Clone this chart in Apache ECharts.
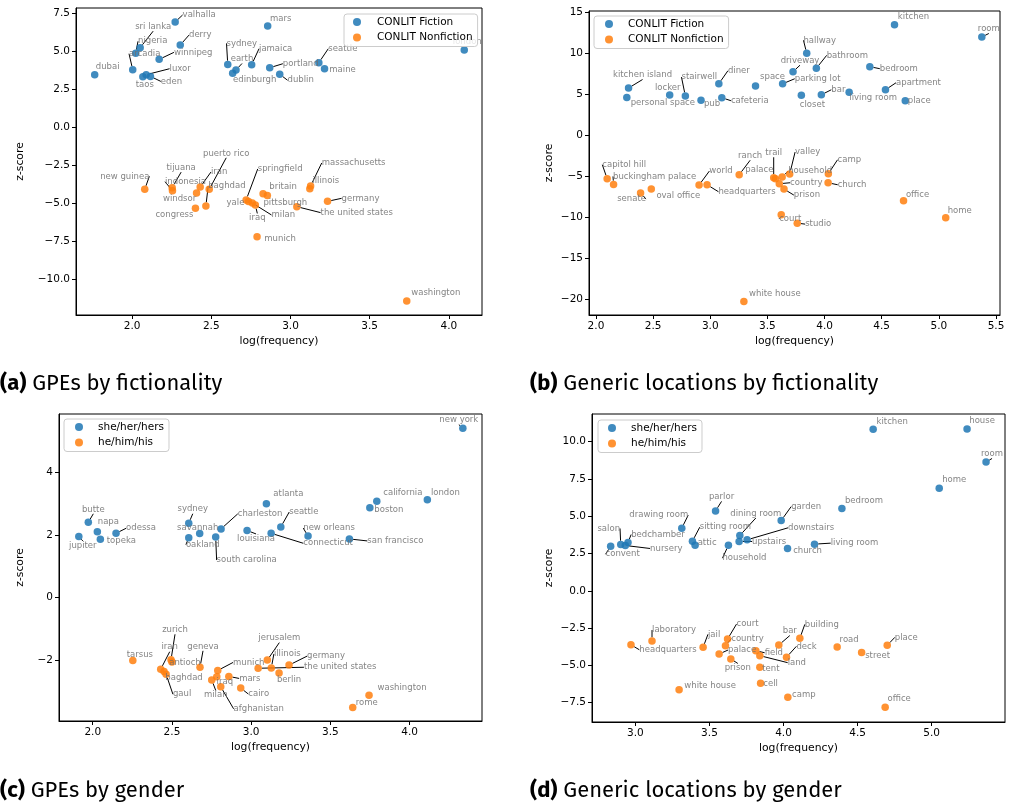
<!DOCTYPE html>
<html><head><meta charset="utf-8">
<script src="https://cdn.jsdelivr.net/npm/echarts@6/dist/echarts.min.js"></script>
<style>html,body{margin:0;padding:0;background:#fff}#c{width:1013px;height:807px}</style>
</head><body><div id="c"></div>
<script>
// ---------- DATA ----------
// (a) GPEs by fictionality
const aFicNames = ['dubai','valhalla','sri lanka','nigeria','arcadia','derry','winnipeg','taos','luxor','eden','sydney','earth','edinburgh','jamaica','mars','portland','dublin','seattle','maine','london'];
const aFicX = [1.764,2.272,2.051,2.023,2.004,2.304,2.171,2.068,2.089,2.116,2.604,2.656,2.635,2.755,2.856,2.869,2.932,3.179,3.215,4.097];
const aFicY = [3.44,6.91,5.22,4.85,3.77,5.39,4.45,3.31,3.44,3.33,4.12,3.75,3.53,4.10,6.64,3.90,3.47,4.23,3.84,5.07];
const aNonNames = ['new guinea','tijuana','indonesia','windsor','iran','puerto rico','baghdad','congress','springfield','yale','milan','iraq','britain','pittsburgh','munich','massachusetts','illinois','germany','the united states','washington'];
const aNonX = [2.080,2.253,2.255,2.407,2.430,2.487,2.466,2.400,2.720,2.735,2.759,2.778,2.827,2.854,2.789,3.127,3.122,3.234,3.040,3.734];
const aNonY = [-4.10,-3.99,-4.19,-4.34,-3.95,-4.10,-5.20,-5.35,-4.80,-4.91,-5.00,-5.13,-4.39,-4.50,-7.22,-3.88,-4.07,-4.89,-5.24,-11.45];

// (b) Generic locations by fictionality
const bFicNames = ['kitchen island','personal space','locker','stairwell','pub','diner','cafeteria','space','hallway','driveway','bathroom','parking lot','closet','bar','living room','bedroom','apartment','place','kitchen','room'];
const bFicX = [2.285,2.270,2.645,2.782,2.919,3.075,3.101,3.396,3.844,3.724,3.928,3.633,3.797,3.972,4.215,4.396,4.533,4.706,4.612,5.376];
const bFicY = [5.77,4.63,4.91,4.79,4.27,6.29,4.59,6.01,10.0,7.76,8.17,6.29,4.88,4.95,5.24,8.37,5.56,4.22,13.49,11.99];
const bNonNames = ['capitol hill','buckingham palace','senate','oval office','world','headquarters','ranch','trail','palace','valley','household','country','prison','camp','church','court','studio','office','home','white house'];
const bNonX = [2.098,2.154,2.390,2.484,2.902,2.972,3.253,3.555,3.570,3.695,3.629,3.604,3.645,4.033,4.031,3.621,3.761,4.691,5.060,3.294];
const bNonY = [-5.29,-5.98,-7.04,-6.55,-6.06,-6.02,-4.80,-5.17,-5.30,-4.72,-5.09,-5.90,-6.55,-4.68,-5.78,-9.68,-10.70,-7.97,-10.04,-20.24];

// (c) GPEs by gender
const cSheNames = ['jupiter','butte','napa','topeka','odessa','sydney','savannah','oakland','charleston','south carolina','louisiana','atlanta','seattle','connecticut','new orleans','san francisco','california','boston','london','new york'];
const cSheX = [1.912,1.972,2.029,2.048,2.147,2.606,2.675,2.606,2.810,2.776,2.974,3.096,3.187,3.126,3.359,3.620,3.793,3.749,4.112,4.336];
const cSheY = [1.95,2.40,2.10,1.86,2.05,2.37,2.04,1.91,2.19,1.93,2.14,2.99,2.25,2.05,1.96,1.87,3.07,2.86,3.12,5.40];
const cHeNames = ['tarsus','zurich','antioch','iran','baghdad','gaul','geneva','munich','mars','iraq','milan','afghanistan','cairo','jerusalem','illinois','the united states','germany','berlin','washington','rome'];
const cHeX = [2.253,2.494,2.500,2.429,2.450,2.463,2.677,2.789,2.859,2.783,2.751,2.808,2.934,3.102,3.127,3.044,3.239,3.176,3.744,3.641];
const cHeY = [-2.00,-1.98,-2.05,-2.28,-2.35,-2.44,-2.22,-2.32,-2.51,-2.52,-2.62,-2.84,-2.88,-1.99,-2.24,-2.25,-2.15,-2.40,-3.11,-3.50];

// (d) Generic locations by gender
const dSheNames = ['convent','salon','bedchamber','nursery','drawing room','sitting room','attic','parlor','household','dining room','upstairs','downstairs','garden','church','living room','bedroom','kitchen','house','room','home'];
const dSheX = [2.833,2.901,2.950,2.932,3.313,3.385,3.403,3.541,3.628,3.705,3.700,3.754,3.984,4.027,4.209,4.394,4.605,5.239,5.367,5.051];
const dSheY = [2.99,3.11,3.24,3.04,4.20,3.33,3.06,5.36,3.06,3.71,3.31,3.42,4.71,2.84,3.13,5.52,10.83,10.85,8.64,6.88];
const dHeNames = ['headquarters','laboratory','jail','white house','court','country','palace','prison','field','land','tent','cell','bar','deck','building','camp','road','street','place','office'];
const dHeX = [2.970,3.112,3.457,3.295,3.622,3.608,3.565,3.644,3.813,3.840,3.840,3.845,3.968,4.020,4.110,4.029,4.362,4.527,4.700,4.686];
const dHeY = [-3.62,-3.37,-3.79,-6.63,-3.24,-3.68,-4.24,-4.57,-4.02,-4.35,-5.13,-6.20,-3.64,-4.46,-3.19,-7.14,-3.77,-4.13,-3.66,-7.81];

// tick values
const aXTicks = [2.0,2.5,3.0,3.5,4.0];
const aYTicks = [-10,-7.5,-5,-2.5,0,2.5,5,7.5];
const bXTicks = [2.0,2.5,3.0,3.5,4.0,4.5,5.0,5.5];
const bYTicks = [-20,-15,-10,-5,0,5,10,15];
const cXTicks = [2.0,2.5,3.0,3.5,4.0];
const cYTicks = [-2,0,2,4];
const dXTicks = [3.0,3.5,4.0,4.5,5.0];
const dYTicks = [-7.5,-5,-2.5,0,2.5,5,7.5,10];

// ---------- LAYOUT (label offsets in px: dx, dy, leader line) ----------
const aFicOff = [[13,-8,0],[24,-7,1],[13,-21,1],[17,-12,1],[12,-16,1],[20,-10,1],[34,-7,1],[2,8,0],[34,-6,1],[21,5,1],[14,-21,1],[6,-11,1],[22,6,0],[24,-16,1],[13,-7,0],[31,-4,1],[21,6,1],[24,-14,1],[18,1,0],[3,-8,0]];
const aNonOff = [[-20,-13,1],[9,-20,1],[13,-9,1],[-17,6,0],[19,-15,1],[17,-36,1],[21,-20,1],[-21,6,0],[34,-31,1],[-13,1,0],[31,12,1],[2,13,1],[20,-7,0],[18,7,0],[23,2,0],[43,-23,1],[16,-8,0],[33,-3,1],[60,6,1],[29,-8,0]];
const bFicOff = [[14,-13,1],[36,5,0],[-2,-7,0],[14,-19,1],[11,3,0],[20,-13,1],[28,3,1],[17,-9,0],[13,-13,1],[7,-11,1],[31,-13,1],[35,-5,1],[11,9,0],[17,-5,1],[24,5,0],[29,2,1],[33,-7,1],[14,0,0],[19,-8,0],[7,-8,1]];
const bNonOff = [[17,-14,1],[41,-8,1],[-9,6,1],[27,7,0],[22,-14,1],[40,7,1],[11,-19,1],[0,-25,1],[-16,-9,0],[18,-22,1],[28,-6,1],[27,-1,1],[23,6,1],[21,-14,1],[24,2,1],[9,4,1],[21,1,1],[14,-6,0],[14,-7,0],[31,-8,0]];
const cSheOff = [[4,9,1],[5,-13,1],[11,-10,0],[21,2,0],[25,-5,1],[4,-14,1],[-2,-6,0],[14,7,1],[39,-15,1],[31,23,1],[9,8,1],[22,-10,0],[23,-15,1],[57,10,1],[21,-8,1],[46,2,1],[26,-8,0],[19,2,0],[18,-7,0],[-4,-8,1]];
const cHeOff = [[7,-6,0],[4,-30,1],[13,1,0],[9,-22,1],[20,6,0],[16,20,1],[3,-21,1],[31,-8,1],[21,2,1],[8,5,0],[4,15,1],[38,22,1],[18,6,1],[12,-22,1],[16,-14,1],[82,-1,1],[37,-9,1],[10,7,0],[33,-7,0],[14,-5,0]];
const dSheOff = [[12,8,1],[-12,-16,1],[30,-8,1],[41,3,1],[-23,-13,1],[33,-14,1],[12,-2,1],[6,-14,1],[16,13,1],[16,-22,1],[30,0,1],[64,-12,1],[25,-14,1],[20,2,0],[40,-1,1],[22,-8,0],[19,-8,0],[15,-8,0],[6,-8,1],[15,-8,0]];
const dHeOff = [[37,5,1],[22,-11,1],[11,-13,1],[31,-4,0],[20,-15,1],[22,-7,1],[23,-4,1],[7,9,1],[18,2,1],[37,7,1],[11,2,0],[10,1,0],[11,-14,1],[20,-11,1],[22,-14,1],[16,-2,0],[12,-7,0],[16,3,0],[19,-8,1],[14,-8,0]];

const BLUE = '#1f77b4', ORANGE = '#ff7f0e';
const FONT = 'DejaVu Sans';
const CAPFONT = '"Fira Sans", "Open Sans", sans-serif';

const panels = [
  {grid:{left:76,top:8,width:406,height:307}, x:[1.646,4.209], y:[-12.37,7.83], xt:aXTicks, yt:aYTicks, yd:1, yGap:50,
   s:[{name:'CONLIT Fiction',n:aFicNames,x:aFicX,y:aFicY,off:aFicOff,c:BLUE},{name:'CONLIT Nonfiction',n:aNonNames,x:aNonX,y:aNonY,off:aNonOff,c:ORANGE}],
   legend:{left:344,top:14,pl:9,tg:11}},
  {grid:{left:589,top:11,width:411,height:304}, x:[1.939,5.535], y:[-21.9,15.16], xt:bXTicks, yt:bYTicks, yd:0, yGap:34,
   s:[{name:'CONLIT Fiction',n:bFicNames,x:bFicX,y:bFicY,off:bFicOff,c:BLUE},{name:'CONLIT Nonfiction',n:bNonNames,x:bNonX,y:bNonY,off:bNonOff,c:ORANGE}],
   legend:{left:594,top:16,pl:11,tg:10}},
  {grid:{left:59,top:414,width:423,height:307}, x:[1.787,4.457], y:[-3.93,5.85], xt:cXTicks, yt:cYTicks, yd:0, yGap:33,
   s:[{name:'she/her/hers',n:cSheNames,x:cSheX,y:cSheY,off:cSheOff,c:BLUE},{name:'he/him/his',n:cHeNames,x:cHeX,y:cHeY,off:cHeOff,c:ORANGE}],
   legend:{left:64,top:419,pl:11,tg:10}},
  {grid:{left:592,top:414,width:413,height:308}, x:[2.707,5.495], y:[-8.8,11.86], xt:dXTicks, yt:dYTicks, yd:1, yGap:37,
   s:[{name:'she/her/hers',n:dSheNames,x:dSheX,y:dSheY,off:dSheOff,c:BLUE},{name:'he/him/his',n:dHeNames,x:dHeX,y:dHeY,off:dHeOff,c:ORANGE}],
   legend:{left:598,top:420,pl:10,tg:10}}
];

function fmt(d){ return v => { const s = Math.abs(v).toFixed(d); return (v < -1e-9 ? '\u2212' : '') + s; }; }

const option = {animation:false, backgroundColor:'#fff', grid:[], xAxis:[], yAxis:[], series:[], legend:[], graphic:[]};
const offsets = [];
panels.forEach((p, gi) => {
  option.grid.push(Object.assign({show:true, borderColor:'#000', borderWidth:1, backgroundColor:'transparent'}, p.grid));
  const axisCommon = {type:'value', gridIndex:gi, splitLine:{show:false},
    axisLine:{show:true, onZero:false, lineStyle:{color:'#000', width:1}},
    nameLocation:'middle', nameTextStyle:{fontFamily:FONT, fontSize:10.8, color:'#000'}};
  option.xAxis.push(Object.assign({}, axisCommon, {min:p.x[0], max:p.x[1], name:'log(frequency)', nameGap:21,
    axisTick:{show:true, length:4, customValues:p.xt, lineStyle:{color:'#000'}},
    axisLabel:{customValues:p.xt, formatter:fmt(1), fontFamily:FONT, fontSize:10.5, color:'#000', margin:6}}));
  option.yAxis.push(Object.assign({}, axisCommon, {min:p.y[0], max:p.y[1], name:'z-score', nameGap:p.yGap,
    axisTick:{show:true, length:4, customValues:p.yt, lineStyle:{color:'#000'}},
    axisLabel:{customValues:p.yt, formatter:fmt(p.yd), fontFamily:FONT, fontSize:10.5, color:'#000', margin:6}}));
  p.s.forEach(s => {
    const si = option.series.length;
    offsets[si] = s.off;
    option.series.push({
      type:'scatter', name:s.name, xAxisIndex:gi, yAxisIndex:gi, symbolSize:7.5,
      itemStyle:{color:s.c, opacity:0.85},
      label:{show:true, position:'inside', formatter:'{b}', fontFamily:FONT, fontSize:8.5, color:'#6e6e6e'},
      labelLine:{show:true, length2:0, lineStyle:{color:'#000', width:1}},
      labelLayout: prm => { const o = offsets[prm.seriesIndex][prm.dataIndex]; return {dx:o[0], dy:o[1]}; },
      emphasis:{disabled:true},
      data: s.n.map((nm, i) => ({name:nm, value:[s.x[i], s.y[i]], labelLine:{show: s.off[i][2] === 1}}))
    });
  });
  option.legend.push({orient:'vertical', left:p.legend.left, top:p.legend.top, data:p.s.map(s=>s.name),
    icon:'circle', itemWidth:8, itemHeight:8, itemGap:3.5, padding:[2,5,3,p.legend.pl],
    borderColor:'#cccccc', borderWidth:1, borderRadius:3, backgroundColor:'rgba(255,255,255,0.8)',
    textStyle:{fontFamily:FONT, fontSize:10.5, color:'#000', lineHeight:12, padding:[0,0,0,p.legend.tg]}, selectedMode:false, z:10});
});

const caps = [['(a)','GPEs by fictionality',0,387],['(b)','Generic locations by fictionality',530,387],['(c)','GPEs by gender',0,794],['(d)','Generic locations by gender',530,794]];
caps.forEach(c => option.graphic.push({type:'text', left:c[2], top:c[3]-14, z:100,
  style:{text:'{b|'+c[0]+'} '+c[1], fill:'#000', font:'22px ' + CAPFONT,
    rich:{b:{fontWeight:'bold', fontSize:22, fontFamily:CAPFONT}}}}));

const chart = echarts.init(document.getElementById('c'), null, {renderer:'canvas'});
chart.setOption(option);
</script></body></html>
